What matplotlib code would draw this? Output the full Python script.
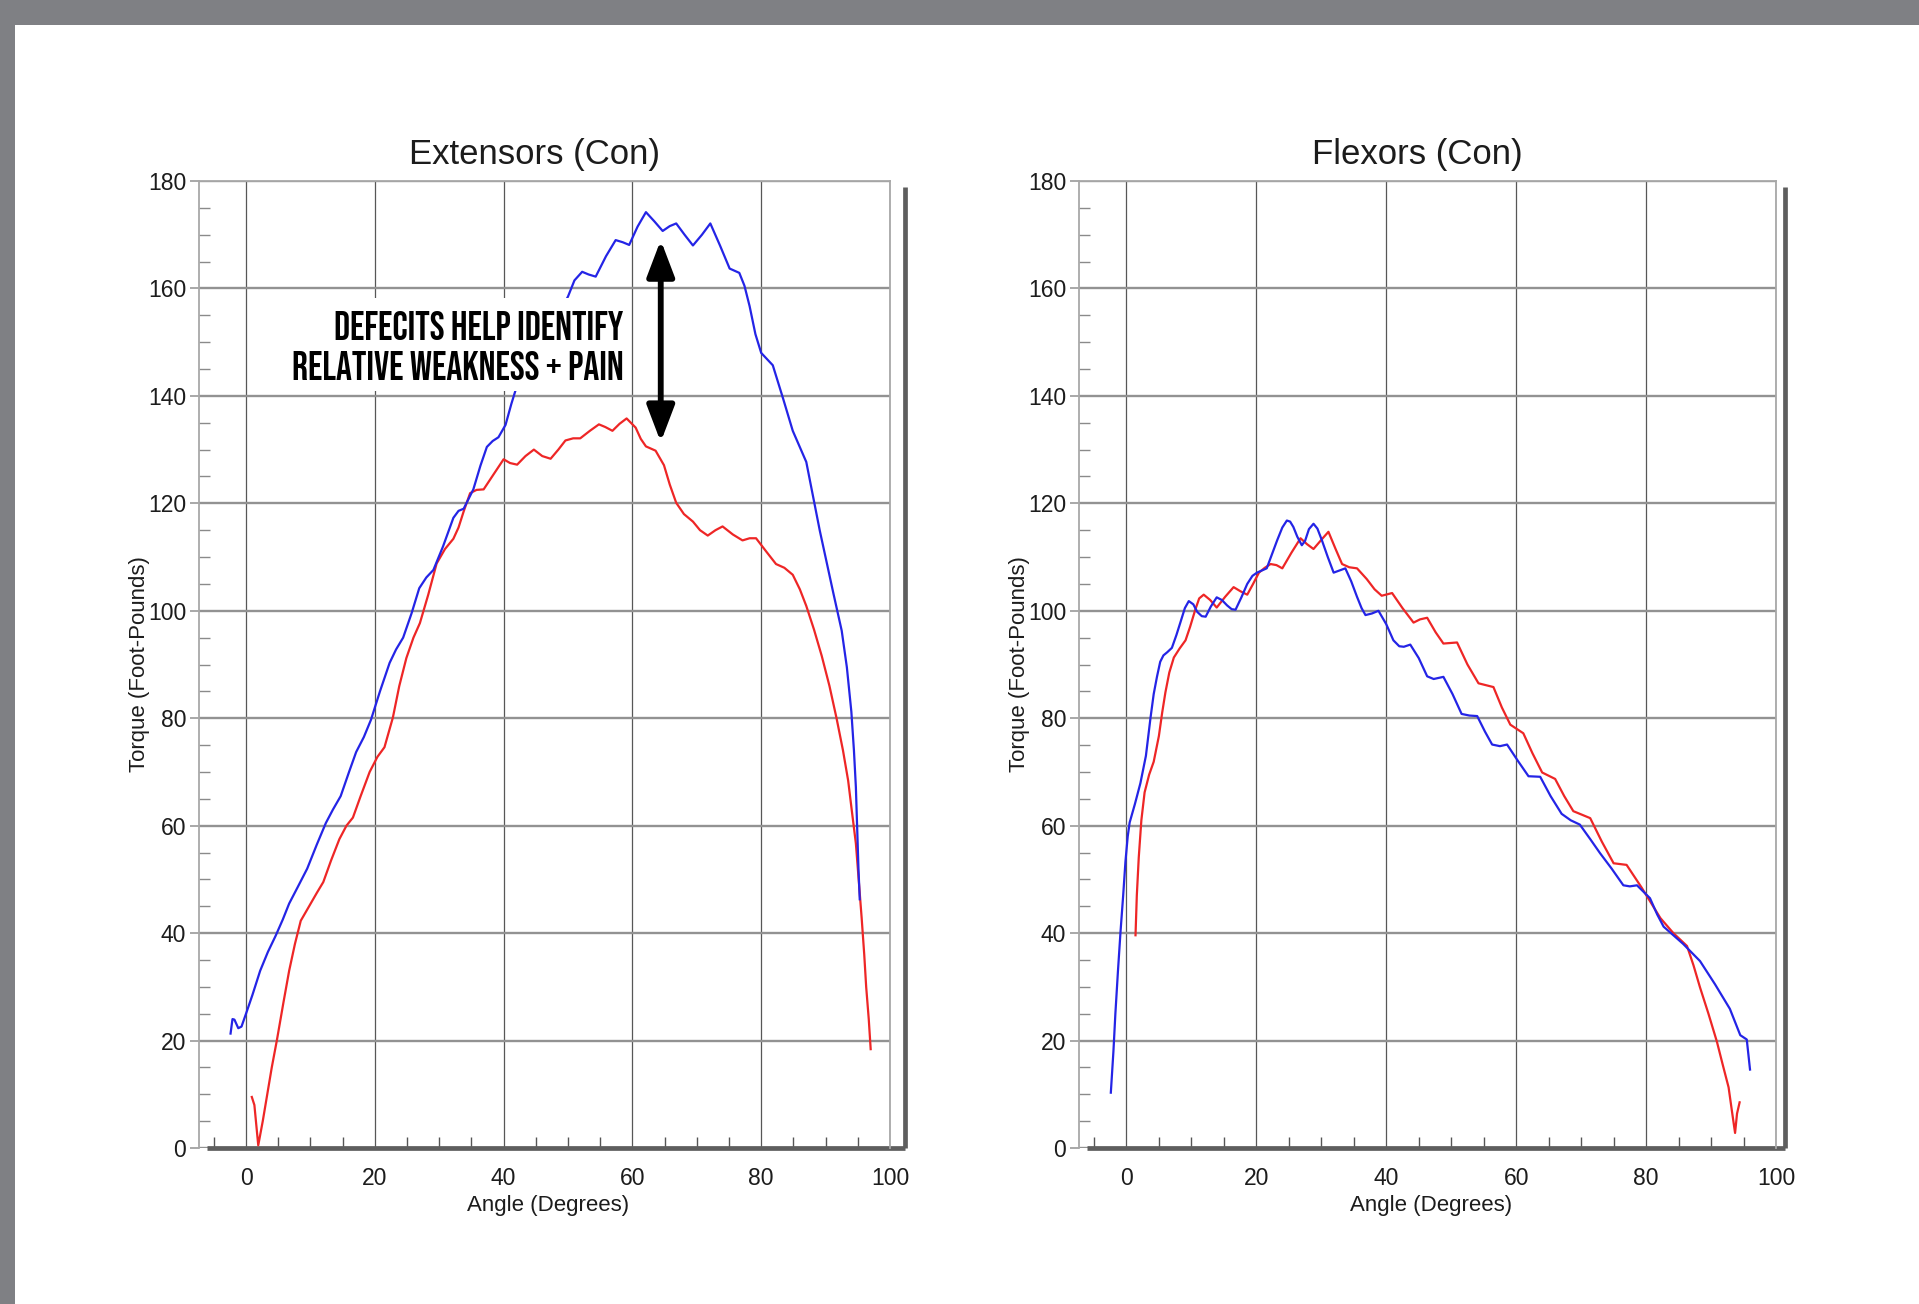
import os
import numpy as np
import matplotlib
matplotlib.use("Agg")
import matplotlib.pyplot as plt
from matplotlib import font_manager
from matplotlib.font_manager import FontProperties
from matplotlib.patches import Rectangle

# ---- data (angle in degrees, torque in ft-lb) ----
ext_blue_x = [-2.4, -2.1, -1.8, -1.2, -0.7, 0.0, 1.0, 2.2, 3.4, 4.6, 5.7, 6.7, 8.0, 9.5, 11.0,
              12.4, 13.5, 14.7, 16.0, 17.1, 18.3, 19.4, 20.8, 22.3, 23.3, 24.4, 25.7, 26.9, 28.0,
              29.1, 30.6, 32.2, 33.0, 33.8, 35.3, 36.4, 37.4, 38.3, 39.2, 40.3, 41.2, 42.1, 44.0,
              46.0, 48.0, 50.0, 51.0, 52.2, 53.2, 54.3, 55.9, 57.4, 58.5, 59.5, 60.8, 62.1, 63.4,
              64.7, 65.8, 66.8, 68.1, 69.4, 70.8, 72.1, 73.6, 75.1, 76.6, 77.4, 78.2, 79.1, 80.0,
              81.8, 83.4, 84.9, 87.0, 89.1, 91.2, 92.5, 93.3, 94.0, 94.4, 94.7, 95.1, 95.3]
ext_blue_y = [21.3, 24.0, 23.9, 22.3, 22.6, 25.0, 28.5, 33.0, 36.5, 39.5, 42.5, 45.5, 48.5, 52.0, 56.5,
              60.5, 63.0, 65.5, 70.0, 73.7, 76.5, 79.7, 85.0, 90.3, 92.8, 95.0, 99.5, 104.2, 106.2,
              107.6, 112.0, 117.3, 118.6, 119.0, 122.6, 127.0, 130.5, 131.6, 132.3, 134.6, 138.5, 142.0, 145.0,
              149.5, 154.0, 158.5, 161.5, 163.1, 162.6, 162.2, 166.0, 169.0, 168.6, 168.1, 171.5, 174.2, 172.5,
              170.7, 171.6, 172.1, 170.0, 168.0, 170.0, 172.1, 168.0, 163.7, 162.9, 160.5, 156.7, 151.5, 148.0,
              145.7, 139.5, 133.5, 127.7, 114.9, 103.3, 96.3, 89.5, 81.2, 74.0, 67.2, 52.1, 46.3]

ext_red_x = [0.9, 1.3, 1.9, 2.6, 3.3, 4.0, 4.8, 5.8, 6.7, 7.6, 8.5, 9.8, 11.0, 12.0, 13.2, 14.5,
             15.6, 16.6, 17.8, 19.2, 20.4, 21.5, 22.8, 23.8, 24.9, 26.0, 27.0, 28.3, 29.6, 30.9,
             32.2, 33.0, 33.8, 34.8, 35.8, 36.9, 38.5, 40.0, 41.0, 42.1, 43.4, 44.7, 46.0, 47.3,
             48.5, 49.6, 50.8, 51.9, 53.4, 54.8, 55.8, 56.9, 58.0, 59.1, 60.5, 61.3, 62.1, 63.6,
             64.9, 65.8, 66.8, 68.0, 69.4, 70.5, 71.7, 72.9, 74.0, 75.6, 77.1, 78.2, 79.2, 80.8,
             82.3, 83.6, 84.9, 86.0, 87.0, 88.2, 89.4, 90.6, 91.7, 92.7, 93.5, 94.1, 94.7, 95.2,
             95.6, 96.0, 96.3, 96.7, 97.0]
ext_red_y = [9.5, 8.0, 0.5, 5.0, 10.0, 15.0, 20.1, 27.0, 33.0, 38.0, 42.3, 45.0, 47.5, 49.5, 53.5, 57.5,
             60.0, 61.5, 65.5, 70.0, 72.8, 74.6, 80.1, 86.0, 91.2, 95.0, 97.7, 103.0, 108.8, 111.5,
             113.4, 115.5, 118.5, 121.9, 122.5, 122.6, 125.5, 128.2, 127.5, 127.2, 128.8, 130.0, 128.8, 128.3,
             130.0, 131.7, 132.1, 132.1, 133.5, 134.7, 134.2, 133.5, 134.8, 135.8, 134.1, 132.0, 130.6, 129.8,
             127.1, 123.5, 120.1, 118.0, 116.6, 115.0, 114.0, 115.0, 115.7, 114.2, 113.1, 113.5, 113.5, 111.0,
             108.7, 108.0, 106.7, 104.0, 100.9, 96.5, 91.6, 86.0, 80.0, 74.0, 68.4, 62.5, 56.7, 49.0,
             42.8, 36.0, 30.0, 24.0, 18.4]

flex_blue_x = [-2.4, -2.0, -1.7, -1.3, -0.9, -0.5, -0.15, 0.2, 0.5, 1.3, 2.15, 3.0, 3.7, 4.2, 4.7,
               5.2, 5.7, 6.3, 7.0, 7.7, 8.3, 9.0, 9.6, 10.3, 10.9, 11.6, 12.2, 13.0, 13.9, 14.7,
               15.5, 16.2, 16.8, 17.7, 18.6, 19.4, 20.1, 21.6, 22.4, 23.2, 24.0, 24.7, 25.2, 25.7,
               26.3, 27.0, 27.5, 28.1, 28.8, 29.4, 30.1, 31.0, 31.9, 32.8, 33.7, 34.6, 35.5, 36.2,
               36.8, 37.8, 38.8, 40.0, 41.1, 42.0, 42.7, 43.7, 45.0, 46.3, 47.3, 48.8, 50.2, 51.6,
               52.8, 54.0, 55.2, 56.3, 57.5, 58.6, 60.3, 61.9, 63.7, 65.3, 67.0, 68.4, 69.8, 71.4,
               72.9, 74.7, 76.5, 77.5, 78.6, 80.6, 81.7, 82.7, 84.2, 85.7, 88.3, 90.6, 92.9, 94.5,
               95.5, 96.0]
flex_blue_y = [10.3, 18.0, 25.0, 33.0, 40.4, 47.0, 53.3, 58.0, 60.6, 64.0, 67.9, 73.0, 80.0, 84.5, 87.7,
               90.5, 91.7, 92.3, 93.1, 95.5, 97.8, 100.5, 101.8, 101.2, 99.8, 99.0, 98.9, 100.8, 102.5, 102.0,
               101.0, 100.3, 100.2, 102.5, 105.0, 106.5, 107.1, 107.9, 110.5, 113.1, 115.5, 116.8, 116.6, 115.6,
               113.8, 112.2, 113.0, 115.2, 116.2, 115.3, 113.1, 110.0, 107.1, 107.5, 107.9, 105.5, 102.6, 100.5,
               99.2, 99.5, 100.0, 97.5, 94.5, 93.4, 93.3, 93.7, 91.2, 87.8, 87.3, 87.7, 84.5, 80.8,
               80.5, 80.4, 77.5, 75.1, 74.8, 75.1, 72.0, 69.2, 69.1, 65.5, 62.2, 61.0, 60.2, 57.5,
               54.9, 52.0, 48.9, 48.7, 48.9, 46.5, 43.5, 41.2, 39.6, 38.0, 34.8, 30.5, 25.9, 21.0,
               20.2, 14.6]

flex_red_x = [1.4, 1.6, 1.9, 2.3, 2.8, 3.5, 4.2, 5.0, 5.5, 6.0, 6.6, 7.3, 8.2, 9.1, 9.8, 10.6,
              11.2, 11.9, 12.9, 13.9, 15.2, 16.5, 17.6, 18.6, 19.5, 20.4, 21.3, 22.2, 23.1, 24.0,
              25.4, 26.8, 27.8, 28.8, 30.0, 31.1, 32.2, 33.2, 34.3, 35.5, 37.0, 38.2, 39.3, 40.9,
              42.5, 44.2, 45.2, 46.3, 47.6, 48.8, 50.9, 52.5, 54.2, 56.5, 57.8, 59.1, 61.1, 62.5,
              64.0, 66.0, 67.4, 68.8, 71.4, 73.2, 75.0, 77.0, 79.3, 82.2, 84.2, 86.3, 87.3, 88.3,
              89.6, 90.9, 91.8, 92.7, 93.2, 93.7, 94.0, 94.4]
flex_red_y = [39.6, 47.0, 54.1, 61.0, 66.2, 69.5, 71.9, 76.7, 81.0, 84.8, 88.5, 91.3, 93.0, 94.5, 97.0, 100.2,
              102.3, 103.0, 102.0, 100.6, 102.6, 104.4, 103.6, 103.0, 105.0, 107.1, 108.0, 108.7, 108.5, 107.9,
              110.8, 113.5, 112.4, 111.5, 113.2, 114.7, 111.5, 108.7, 108.1, 107.9, 105.9, 104.0, 102.8, 103.3,
              100.5, 97.8, 98.4, 98.7, 96.0, 93.9, 94.1, 90.0, 86.5, 85.8, 82.0, 78.8, 77.2, 73.5,
              69.9, 68.7, 65.5, 62.7, 61.4, 57.0, 53.0, 52.7, 48.5, 42.8, 40.0, 37.6, 34.0, 29.9,
              25.0, 19.8, 15.5, 11.3, 7.0, 2.8, 6.4, 8.5]

panel_titles = ["Extensors (Con)", "Flexors (Con)"]
x_label = "Angle (Degrees)"
y_label = "Torque (Foot-Pounds)"
x_major = [0, 20, 40, 60, 80, 100]
y_major = [0, 20, 40, 60, 80, 100, 120, 140, 160, 180]

note_lines = ["DEFECITS HELP IDENTIFY", "RELATIVE WEAKNESS + PAIN"]
note_right = 58.6
note_baselines = [150.4, 142.9]
arrow_x = 64.4
arrow_top = 169.0
arrow_bottom = 131.4

# ---- styling ----
BLUE = "#2424e6"
RED = "#ee2626"
FRAME_GRAY = "#7f8084"
TEXT = "#1c1c1c"
W, H = 1919, 1304

plt.rcParams["font.family"] = ["Liberation Sans", "DejaVu Sans"]


def px(v):
    """Pixels to points at dpi 100."""
    return v * 72.0 / 100.0


def condensed_bold():
    """Poster-style condensed bold face for the callout, best one installed."""
    wanted = ["Oswald-Bold", "Oswald-SemiBold", "BebasNeue-Regular", "FjallaOne-Regular",
              "Anton-Regular", "Oswald[wght]", "NotoSans-ExtraCondensedBold",
              "NotoSans-CondensedBold", "LiberationSansNarrow-Bold",
              "DejaVuSansCondensed-Bold", "Roboto-Bold", "LiberationSans-Bold"]
    files = {os.path.splitext(os.path.basename(f.fname))[0]: f.fname
             for f in font_manager.fontManager.ttflist}
    for name in wanted:
        if name in files:
            return FontProperties(fname=files[name])
    return FontProperties(family="DejaVu Sans", weight="bold")


def draw_panel(ax, title, blue_x, blue_y, red_x, red_y, shadow_x):
    """One torque/angle panel in the look of the dynamometer software."""
    ax.set_xlim(-7.3, 100)
    ax.set_ylim(0, 180)

    ax.set_xticks(x_major)
    ax.set_xticks(np.arange(-5, 101, 5), minor=True)
    ax.set_yticks(y_major)
    ax.set_yticks(np.arange(0, 181, 5), minor=True)

    ax.tick_params(axis="x", which="major", length=0, pad=px(19),
                   labelsize=16.5, labelcolor=TEXT)
    ax.tick_params(axis="x", which="minor", direction="in", length=px(11),
                   width=1.0, color="#555555")
    ax.tick_params(axis="y", which="major", direction="out", length=px(9),
                   width=1.2, color="#9a9a9a", pad=px(4), labelsize=16.5, labelcolor=TEXT)
    ax.tick_params(axis="y", which="minor", direction="in", length=px(11),
                   width=1.0, color="#8a8a8a")

    ax.set_axisbelow(True)
    ax.yaxis.grid(True, which="major", color="#929292", lw=1.7)
    ax.xaxis.grid(True, which="major", color="#575757", lw=0.9)

    for side in ("top", "left", "right"):
        ax.spines[side].set_color("#a8a8a8")
        ax.spines[side].set_linewidth(1.3)
    ax.spines["bottom"].set_visible(False)

    # dark drop-shadow frame on the bottom and right
    ax.plot([-6.0, shadow_x], [0, 0], color="#5e5e5e", lw=3.4,
            solid_capstyle="butt", clip_on=False, zorder=2)
    ax.plot([shadow_x, shadow_x], [0, 178.8], color="#5e5e5e", lw=3.4,
            solid_capstyle="butt", clip_on=False, zorder=2)

    ax.plot(red_x, red_y, color=RED, lw=1.6, zorder=3)
    ax.plot(blue_x, blue_y, color=BLUE, lw=1.6, zorder=3)

    ax.set_title(title, fontsize=25, color=TEXT, pad=12, x=0.486)
    ax.set_xlabel(x_label, fontsize=16, color=TEXT)
    ax.set_ylabel(y_label, fontsize=16, color=TEXT)
    ax.xaxis.set_label_coords(0.505, -0.049)
    ax.yaxis.set_label_coords(-0.071, 0.5)


fig = plt.figure(figsize=(W / 100, H / 100), dpi=100)
fig.patch.set_facecolor("white")

# grey page border (top and left)
fig.patches.append(Rectangle((0, 1 - 25 / H), 1, 25 / H, transform=fig.transFigure,
                             facecolor=FRAME_GRAY, edgecolor="none", zorder=0))
fig.patches.append(Rectangle((0, 0), 15 / W, 1, transform=fig.transFigure,
                             facecolor=FRAME_GRAY, edgecolor="none", zorder=0))

ax_ext = fig.add_axes([199 / W, 1 - 1148 / H, 691 / W, 967 / H])
ax_flex = fig.add_axes([1079 / W, 1 - 1148 / H, 697 / W, 967 / H])

draw_panel(ax_ext, panel_titles[0], ext_blue_x, ext_blue_y, ext_red_x, ext_red_y, 102.3)
draw_panel(ax_flex, panel_titles[1], flex_blue_x, flex_blue_y, flex_red_x, flex_red_y, 101.4)

# callout on the extensor panel: two right-aligned lines on a white panel
note_font = condensed_bold()
note_texts = [ax_ext.text(note_right, yb, line, ha="right", va="baseline",
                          fontproperties=note_font, fontsize=20, color="black", zorder=5)
              for line, yb in zip(note_lines, note_baselines)]

# size the callout so the long line spans about the same width as in the report
fig.canvas.draw()
renderer = fig.canvas.get_renderer()
wide = note_texts[1].get_window_extent(renderer).width
size = min(20 * 366.0 / wide, 28.5)
for t in note_texts:
    t.set_fontsize(size)

# white panel hugging the text, hiding the curve behind it
fig.canvas.draw()
to_data = ax_ext.transData.inverted()
left_px = min(t.get_window_extent(renderer).x0 for t in note_texts) - 6
x_left = to_data.transform((left_px, 0))[0]
ax_ext.add_patch(Rectangle((x_left, 140.9), note_right + 1.2 - x_left, 17.4,
                           facecolor="white", edgecolor="none", zorder=4))

ax_ext.annotate("", xy=(arrow_x, arrow_top), xytext=(arrow_x, arrow_bottom),
                arrowprops=dict(arrowstyle="<|-|>,head_length=1.0,head_width=0.38",
                                mutation_scale=22, lw=4.2, color="black",
                                shrinkA=0, shrinkB=0),
                zorder=6)

fig.savefig("out.png", dpi=100)
